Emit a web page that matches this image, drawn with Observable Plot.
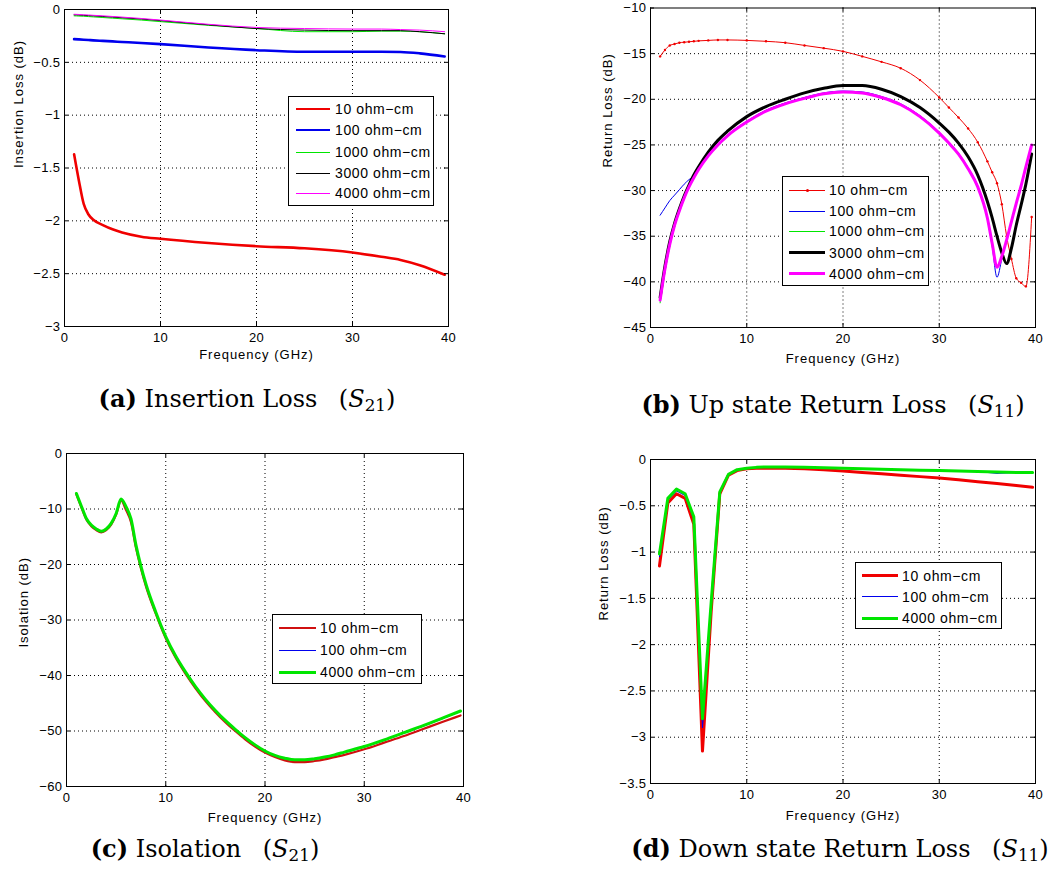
<!DOCTYPE html>
<html><head><meta charset="utf-8">
<script src="https://cdn.jsdelivr.net/npm/d3@7"></script>
<script src="https://cdn.jsdelivr.net/npm/@observablehq/plot@0.6"></script>
<style>
body{margin:0;background:#fff;}
#root{position:relative;width:1057px;height:884px;overflow:hidden;background:#fff;}
#root svg{position:absolute;}
.legend{position:absolute;border:1px solid #000;background:#fff;box-sizing:border-box;}
.legend div{position:absolute;}
.legend .lbl{font-family:"Liberation Sans",Arial,sans-serif;font-size:14px;letter-spacing:0.6px;line-height:16px;white-space:nowrap;color:#000;transform:translateY(-50%);}
.cap{position:absolute;font-family:"DejaVu Serif",serif;font-size:24px;line-height:24px;white-space:nowrap;transform:translateX(-50%);color:#000;}
.cap sub{font-size:0.7em;vertical-align:0;position:relative;top:0.28em;}
.cap .gap{display:inline-block;width:0.9em;}
</style></head><body><div id="root"></div>
<script>
// ---------- shared ----------
const xTicks = [0, 10, 20, 30, 40];
const legend5 = ["10 ohm\u2212cm", "100 ohm\u2212cm", "1000 ohm\u2212cm", "3000 ohm\u2212cm", "4000 ohm\u2212cm"];
const legend3 = ["10 ohm\u2212cm", "100 ohm\u2212cm", "4000 ohm\u2212cm"];
const RED = "#f00000", BLUE = "#0000ee", GREEN = "#00e600", BLACK = "#000000", MAGENTA = "#ff00ff";

// ---------- (a) Insertion loss ----------
const freqA = [1,1.5,2,2.5,3,4,5,6,8,10,15,20,25,30,33,35,37,39.6];
const ilRed     = [-1.37,-1.62,-1.84,-1.94,-1.99,-2.04,-2.08,-2.11,-2.15,-2.17,-2.21,-2.24,-2.26,-2.30,-2.34,-2.37,-2.42,-2.51];
const ilBlue    = [-0.28,-0.283,-0.286,-0.289,-0.292,-0.297,-0.302,-0.307,-0.317,-0.328,-0.36,-0.385,-0.40,-0.40,-0.40,-0.402,-0.415,-0.445];
const ilGreen   = [-0.06,-0.062,-0.064,-0.067,-0.07,-0.076,-0.082,-0.088,-0.10,-0.115,-0.15,-0.18,-0.21,-0.21,-0.205,-0.205,-0.21,-0.23];
const ilBlack   = [-0.05,-0.052,-0.055,-0.058,-0.06,-0.066,-0.072,-0.078,-0.09,-0.105,-0.145,-0.18,-0.195,-0.20,-0.20,-0.20,-0.21,-0.23];
const ilMagenta = [-0.045,-0.047,-0.05,-0.052,-0.055,-0.06,-0.066,-0.072,-0.085,-0.10,-0.14,-0.17,-0.18,-0.185,-0.185,-0.19,-0.195,-0.21];
const yTicksA = [0,-0.5,-1,-1.5,-2,-2.5,-3];

// ---------- (b) Up state return loss ----------
const freqB = [1,1.5,2,2.5,3,3.5,4,4.5,5,6,7,8,10,12,14,16,18,20,22,24,26,28,30,31,32,33,34,35,35.5,36,36.5,37,37.5,38,38.5,39,39.6];
const upRed     = [-15.3,-14.6,-14.1,-13.95,-13.8,-13.75,-13.7,-13.65,-13.6,-13.55,-13.5,-13.5,-13.55,-13.65,-13.8,-14.1,-14.4,-14.75,-15.3,-15.9,-16.6,-17.9,-19.8,-20.9,-22.0,-23.2,-24.7,-26.8,-28.0,-29.2,-31.5,-35.0,-37.5,-39.6,-40.1,-40.5,-32.9];
const upBlue    = [-32.7,-31.9,-31.1,-30.5,-29.9,-29.3,-28.8,-28.4,-27.6,-26.1,-24.9,-23.9,-22.4,-21.2,-20.4,-19.8,-19.3,-19.1,-19.2,-19.7,-20.5,-21.8,-23.6,-24.7,-25.9,-27.5,-29.5,-33.1,-36.1,-39.5,-37.5,-35.4,-33.4,-31.4,-29.5,-27.4,-25.0];
const upGreen   = [-42.3,-38.7,-35.9,-33.8,-32.2,-30.8,-29.6,-28.6,-27.7,-26.2,-25.0,-24.0,-22.5,-21.3,-20.5,-19.9,-19.4,-19.2,-19.3,-19.8,-20.6,-21.9,-23.7,-24.8,-26.0,-27.6,-29.6,-33.0,-35.8,-38.4,-37.2,-35.4,-33.4,-31.4,-29.5,-27.4,-25.0];
const upBlack   = [-41.7,-38.3,-35.6,-33.6,-32.0,-30.6,-29.4,-28.3,-27.4,-25.8,-24.5,-23.5,-21.9,-20.8,-20.0,-19.3,-18.8,-18.5,-18.5,-18.9,-19.7,-20.9,-22.6,-23.6,-24.8,-26.3,-28.3,-31.2,-33.0,-35.0,-36.8,-38.0,-36.3,-33.8,-31.6,-29.3,-26.0];
const upMagenta = [-42.0,-38.6,-35.9,-33.8,-32.2,-30.8,-29.6,-28.6,-27.7,-26.2,-25.0,-24.0,-22.5,-21.3,-20.5,-19.9,-19.4,-19.2,-19.3,-19.8,-20.6,-21.9,-23.7,-24.8,-26.0,-27.6,-29.6,-33.0,-35.8,-38.4,-37.2,-35.4,-33.4,-31.4,-29.5,-27.4,-25.0];
const yTicksB = [-10,-15,-20,-25,-30,-35,-40,-45];

// ---------- (c) Isolation ----------
const freqC = [1,1.5,2,2.5,3,3.5,4,4.5,5,5.5,6,6.5,7,7.5,8,9,10,11,12,13,14,15,16,17,18,19,20,21,22,23,24,25,26,27,28,30,32,34,36,38,39.7];
const isoRed   = [-7.4,-9.7,-11.9,-13.1,-13.8,-14.2,-13.8,-12.8,-11.0,-8.5,-10.2,-12.4,-17.0,-20.7,-23.9,-28.9,-33.3,-36.8,-39.7,-42.3,-44.6,-46.6,-48.4,-50.0,-51.5,-52.8,-53.9,-54.7,-55.3,-55.6,-55.6,-55.4,-55.1,-54.7,-54.3,-53.3,-52.1,-50.9,-49.6,-48.3,-47.2];
const isoBlue  = [-7.3,-9.6,-11.8,-13.0,-13.7,-14.1,-13.7,-12.7,-10.9,-8.3,-9.9,-12.1,-16.7,-20.5,-23.7,-28.7,-33.1,-36.6,-39.5,-42.1,-44.4,-46.4,-48.2,-49.8,-51.3,-52.6,-53.7,-54.5,-55.0,-55.3,-55.3,-55.1,-54.8,-54.4,-53.9,-52.9,-51.7,-50.4,-49.1,-47.7,-46.5];
const isoGreen = [-7.2,-9.5,-11.7,-12.9,-13.6,-14.0,-13.6,-12.6,-10.8,-8.2,-9.6,-11.8,-16.5,-20.3,-23.5,-28.6,-33.0,-36.5,-39.4,-42.0,-44.3,-46.3,-48.1,-49.7,-51.2,-52.5,-53.6,-54.4,-54.9,-55.2,-55.2,-55.0,-54.7,-54.3,-53.8,-52.8,-51.6,-50.3,-49.0,-47.6,-46.4];
const yTicksC = [0,-10,-20,-30,-40,-50,-60];

// ---------- (d) Down state return loss ----------
const freqD = [0.93,1.8,2.7,3.6,4.5,5.4,6.3,7.2,8.1,9,10,11,12,14,16,18,20,22,24,26,28,30,32,34,36,38,39.7];
const dnRed   = [-1.15,-0.47,-0.37,-0.42,-0.70,-3.15,-1.65,-0.37,-0.17,-0.12,-0.10,-0.095,-0.095,-0.095,-0.10,-0.11,-0.125,-0.14,-0.155,-0.17,-0.185,-0.20,-0.22,-0.24,-0.26,-0.28,-0.30];
const dnBlue  = [-1.05,-0.44,-0.34,-0.39,-0.65,-2.9,-1.6,-0.36,-0.16,-0.11,-0.095,-0.085,-0.08,-0.08,-0.085,-0.09,-0.095,-0.10,-0.105,-0.11,-0.115,-0.12,-0.125,-0.13,-0.15,-0.14,-0.14];
const dnGreen = [-1.02,-0.42,-0.32,-0.37,-0.62,-2.8,-1.55,-0.35,-0.16,-0.11,-0.095,-0.085,-0.08,-0.08,-0.085,-0.09,-0.095,-0.10,-0.105,-0.11,-0.115,-0.12,-0.125,-0.13,-0.135,-0.14,-0.14];
const yTicksD = [0,-0.5,-1,-1.5,-2,-2.5,-3,-3.5];

// ---------- helpers ----------
const root = document.getElementById("root");
const fmt = d => (d < 0 ? "\u2212" + (-d) : String(d));
const rows = (freq, vals) => freq.map((f, i) => ({f, v: vals[i]}));

function panel(c) {
  const ml = c.fl - c.svgL, mr = c.svgL + c.svgW - c.fr, mt = c.ft - c.svgT, mb = c.svgT + c.svgH - c.fb;
  const pw = c.fr - c.fl, ph = c.fb - c.ft;
  const inner = c.yTicks.filter(t => t !== c.ydom[0] && t !== c.ydom[1]);
  const marks = [
    Plot.ruleX([10, 20, 30], {stroke: "#000", strokeDasharray: "1,3", strokeOpacity: 1}),
    Plot.ruleY(inner, {stroke: "#000", strokeDasharray: "1,3", strokeOpacity: 1}),
  ];
  for (const s of c.series) {
    const data = rows(s.freq, s.vals);
    marks.push(Plot.line(data, {x: "f", y: "v", stroke: s.color, strokeWidth: s.w, strokeLinejoin: "round", curve: c.curve}));
    if (s.dots) marks.push(Plot.dot(data, {x: "f", y: "v", r: 1.2, fill: s.color, stroke: null}));
  }
  marks.push(
    Plot.ruleX(xTicks, {stroke: "#000", insetTop: ph - 4}),
    Plot.ruleX(xTicks, {stroke: "#000", insetBottom: ph - 4}),
    Plot.ruleY(c.yTicks, {stroke: "#000", insetRight: pw - 4}),
    Plot.ruleY(c.yTicks, {stroke: "#000", insetLeft: pw - 4}),
    Plot.frame({stroke: "#000"}),
    Plot.axisX({ticks: xTicks, tickSize: 0, tickPadding: 6, tickFormat: fmt, label: null}),
    Plot.axisY({ticks: c.yTicks, tickSize: 0, tickPadding: 4, tickFormat: fmt, label: null}),
    Plot.text(["Frequency (GHz)"], {text: d => d, frameAnchor: "bottom", dy: c.xlabDy, lineAnchor: "middle", fill: "#000"}),
    Plot.text([c.ylabel], {text: d => d, frameAnchor: "left", rotate: -90, dx: c.ylabX - c.fl, dy: c.ylabY - (c.ft + c.fb) / 2, fill: "#000"})
  );
  const svg = Plot.plot({
    width: c.svgW, height: c.svgH,
    marginLeft: ml, marginRight: mr, marginTop: mt, marginBottom: mb,
    x: {domain: [0, 40]}, y: {domain: c.ydom},
    style: {fontFamily: "'Liberation Sans', Arial, sans-serif", fontSize: "13px", color: "#000", background: "transparent", overflow: "visible"},
    marks
  });
  svg.style.left = c.svgL + "px";
  svg.style.top = c.svgT + "px";
  d3.select(svg).selectAll("text").style("letter-spacing", "0.4px");
  d3.select(svg).selectAll("text").filter(function() {
    const t = this.textContent; return t === "Frequency (GHz)" || t === c.ylabel;
  }).style("letter-spacing", "1px");
  root.appendChild(svg);
}

function legend(c) {
  const box = document.createElement("div");
  box.className = "legend";
  Object.assign(box.style, {left: c.left + "px", top: c.top + "px", width: c.w + "px", height: c.h + "px"});
  c.items.forEach((it, i) => {
    const y = c.rowY[i] - c.top - 1;
    const sw = document.createElement("div");
    Object.assign(sw.style, {left: (c.s0 - c.left - 1) + "px", width: (c.s1 - c.s0) + "px", top: (y - it.w / 2) + "px", height: it.w + "px", background: it.color});
    box.appendChild(sw);
    if (it.dots) {
      const dt = document.createElement("div");
      const cx = (c.s0 + c.s1) / 2 - c.left - 1;
      Object.assign(dt.style, {left: (cx - 1.5) + "px", top: (y - 1.5) + "px", width: "3px", height: "3px", borderRadius: "50%", background: it.color});
      box.appendChild(dt);
    }
    const lb = document.createElement("div");
    lb.className = "lbl";
    lb.textContent = it.label;
    Object.assign(lb.style, {left: (c.tx - c.left - 1) + "px", top: y + "px"});
    box.appendChild(lb);
  });
  root.appendChild(box);
}

function caption(html, cx, baseline) {
  const d = document.createElement("div");
  d.className = "cap";
  d.innerHTML = html;
  d.style.left = cx + "px";
  d.style.top = (baseline - 20.3) + "px";
  root.appendChild(d);
}

// ---------- panels ----------
panel({svgL: 0, svgT: 0, svgW: 528, svgH: 380, fl: 64, fr: 448, ft: 9, fb: 326, curve: "monotone-x",
  ydom: [-3, 0], yTicks: yTicksA, ylabel: "Insertion Loss (dB)", ylabX: 18, ylabY: 167.5, xlabDy: 28,
  series: [
    {freq: freqA, vals: ilRed, color: RED, w: 2.6},
    {freq: freqA, vals: ilBlue, color: BLUE, w: 2.6},
    {freq: freqA, vals: ilGreen, color: GREEN, w: 1},
    {freq: freqA, vals: ilBlack, color: BLACK, w: 1},
    {freq: freqA, vals: ilMagenta, color: MAGENTA, w: 1}
  ]});
panel({svgL: 528, svgT: 0, svgW: 529, svgH: 380, fl: 650, fr: 1035, ft: 7.5, fb: 327, curve: "monotone-x",
  ydom: [-45, -10], yTicks: yTicksB, ylabel: "Return Loss (dB)", ylabX: 607, ylabY: 167, xlabDy: 31,
  series: [
    {freq: freqB, vals: upRed, color: RED, w: 1, dots: true},
    {freq: freqB, vals: upBlue, color: BLUE, w: 1},
    {freq: freqB, vals: upGreen, color: GREEN, w: 1},
    {freq: freqB, vals: upBlack, color: BLACK, w: 3},
    {freq: freqB, vals: upMagenta, color: MAGENTA, w: 3}
  ]});
panel({svgL: 0, svgT: 430, svgW: 528, svgH: 400, fl: 66, fr: 463, ft: 453, fb: 786, curve: "monotone-x",
  ydom: [-60, 0], yTicks: yTicksC, ylabel: "Isolation (dB)", ylabX: 23, ylabY: 647, xlabDy: 31,
  series: [
    {freq: freqC, vals: isoRed, color: "#d01010", w: 2.2},
    {freq: freqC, vals: isoBlue, color: BLUE, w: 1},
    {freq: freqC, vals: isoGreen, color: GREEN, w: 3}
  ]});
panel({svgL: 528, svgT: 430, svgW: 529, svgH: 400, fl: 650, fr: 1035, ft: 459, fb: 783, curve: "linear",
  ydom: [-3.5, 0], yTicks: yTicksD, ylabel: "Return Loss (dB)", ylabX: 603, ylabY: 620, xlabDy: 32,
  series: [
    {freq: freqD, vals: dnRed, color: RED, w: 3},
    {freq: freqD, vals: dnBlue, color: BLUE, w: 1},
    {freq: freqD, vals: dnGreen, color: GREEN, w: 3}
  ]});

// ---------- legends ----------
legend({left: 288, top: 96, w: 146, h: 110, s0: 296, s1: 330, tx: 335, rowY: [109, 130, 152, 173, 193],
  items: [
    {label: legend5[0], color: RED, w: 2.6}, {label: legend5[1], color: BLUE, w: 2.6},
    {label: legend5[2], color: GREEN, w: 1}, {label: legend5[3], color: BLACK, w: 1},
    {label: legend5[4], color: MAGENTA, w: 1}]});
legend({left: 782, top: 176, w: 147, h: 110, s0: 789, s1: 825, tx: 829, rowY: [190, 211, 231, 252.5, 273.5],
  items: [
    {label: legend5[0], color: RED, w: 1, dots: true}, {label: legend5[1], color: BLUE, w: 1},
    {label: legend5[2], color: GREEN, w: 1}, {label: legend5[3], color: BLACK, w: 3},
    {label: legend5[4], color: MAGENTA, w: 3}]});
legend({left: 272, top: 614, w: 150, h: 70, s0: 279, s1: 316, tx: 320, rowY: [628, 650, 672],
  items: [
    {label: legend3[0], color: "#d01010", w: 2.2}, {label: legend3[1], color: BLUE, w: 1},
    {label: legend3[2], color: GREEN, w: 3}]});
legend({left: 855, top: 562, w: 147, h: 67, s0: 862, s1: 898, tx: 902, rowY: [575.5, 596.5, 618],
  items: [
    {label: legend3[0], color: RED, w: 3}, {label: legend3[1], color: BLUE, w: 1},
    {label: legend3[2], color: GREEN, w: 3}]});

// ---------- captions ----------
caption('<b>(a)</b> Insertion Loss<span class="gap"></span>(<i>S</i><sub>21</sub>)', 247, 407);
caption('<b>(b)</b> Up state Return Loss<span class="gap"></span>(<i>S</i><sub>11</sub>)', 833, 413);
caption('<b>(c)</b> Isolation<span class="gap"></span>(<i>S</i><sub>21</sub>)', 205, 857);
caption('<b>(d)</b> Down state Return Loss<span class="gap"></span>(<i>S</i><sub>11</sub>)', 840, 857);
</script></body></html>
